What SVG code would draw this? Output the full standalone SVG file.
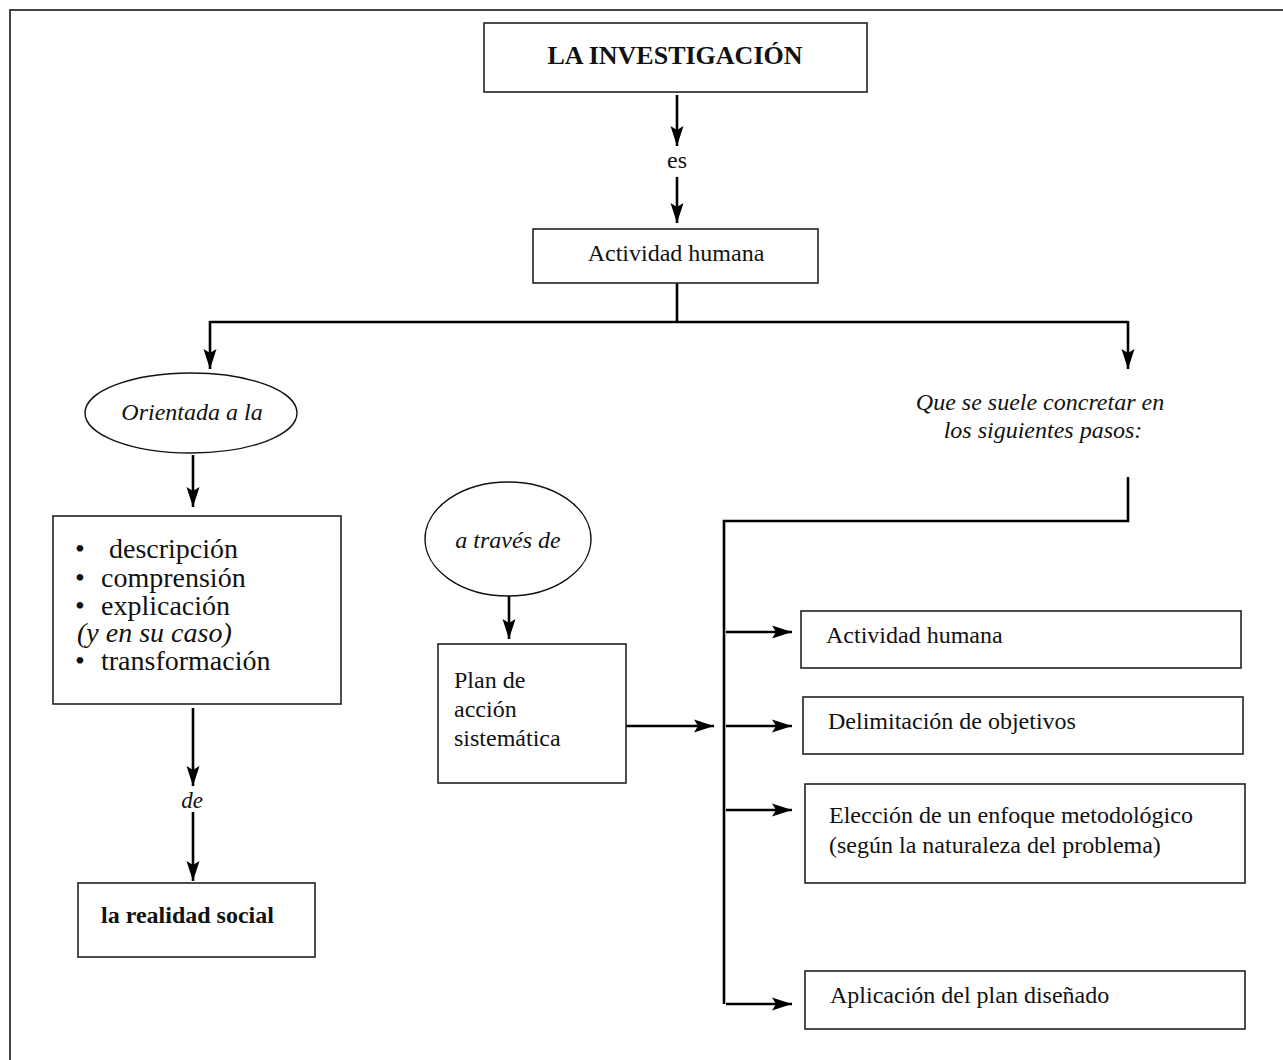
<svg xmlns="http://www.w3.org/2000/svg" width="1283" height="1060" viewBox="0 0 1283 1060">
<defs>
<marker id="ah" markerUnits="userSpaceOnUse" markerWidth="22" markerHeight="14" refX="20" refY="7" orient="auto">
<path d="M0,0.5 L20,7 L0,13.5 L4,7 z" fill="#000"/>
</marker>
</defs>
<style>
.box{fill:#fff;stroke:#222;stroke-width:1.6}
.ell{fill:#fff;stroke:#111;stroke-width:1.4}
.t{font-family:"Liberation Serif","Times New Roman",serif;fill:#111}
.it{font-style:italic}
.b{font-weight:bold}
.c{fill:none;stroke:#000;stroke-width:2.6}
.a{fill:none;stroke:#000;stroke-width:2.6;marker-end:url(#ah)}
.frame{fill:none;stroke:#444;stroke-width:2}
</style>
<rect width="1283" height="1060" fill="#fff"/>
<path class="frame" d="M10,1060 V10 H1283"/>

<g id="connectors">
<line class="a" x1="677" y1="95" x2="677" y2="146"/>
<line class="a" x1="677" y1="177" x2="677" y2="223"/>
<polyline class="c" points="677,283 677,322"/>
<polyline class="c" points="210,322 1128,322"/>
<polyline class="a" points="210,321 210,369"/>
<polyline class="a" points="1128,321 1128,369"/>
<line class="a" x1="193" y1="455" x2="193" y2="507"/>
<line class="a" x1="193" y1="708" x2="193" y2="786"/>
<line class="a" x1="193" y1="812" x2="193" y2="881"/>
<line class="a" x1="509" y1="573" x2="509" y2="639"/>
<line class="a" x1="626" y1="726" x2="714" y2="726"/>
<polyline class="c" points="1128,477 1128,521 724,521 724,1004"/>
<line class="a" x1="726" y1="632" x2="792" y2="632"/>
<line class="a" x1="726" y1="726" x2="792" y2="726"/>
<line class="a" x1="726" y1="810" x2="792" y2="810"/>
<line class="a" x1="726" y1="1004" x2="792" y2="1004"/>
<text class="t" x="677" y="168" font-size="24" text-anchor="middle">es</text>
<text class="t it" x="192" y="808" font-size="23" text-anchor="middle">de</text>
</g>

<g id="n-investigacion">
<rect class="box" x="484" y="23" width="383" height="69"/>
<text class="t b" x="675" y="64" font-size="26" text-anchor="middle">LA INVESTIGACIÓN</text>
</g>

<g id="n-actividad">
<rect class="box" x="533" y="229" width="285" height="54"/>
<text class="t" x="676" y="261" font-size="24" text-anchor="middle">Actividad humana</text>
</g>

<g id="n-orientada">
<ellipse class="ell" cx="191" cy="413" rx="106" ry="40"/>
<text class="t it" x="192" y="420" font-size="24" text-anchor="middle">Orientada a la</text>
</g>

<g id="n-lista">
<rect class="box" x="53" y="516" width="288" height="188"/>
<text class="t" font-size="28">
<tspan x="75" y="558">•</tspan><tspan x="109" y="558">descripción</tspan>
<tspan x="75" y="587">•</tspan><tspan x="101" y="587">comprensión</tspan>
<tspan x="75" y="615">•</tspan><tspan x="101" y="615">explicación</tspan>
<tspan x="77" y="642" font-style="italic">(y en su caso)</tspan>
<tspan x="75" y="670">•</tspan><tspan x="101" y="670">transformación</tspan>
</text>
</g>

<g id="n-realidad">
<rect class="box" x="78" y="883" width="237" height="74"/>
<text class="t b" x="101" y="923" font-size="24">la realidad social</text>
</g>

<g id="n-traves">
<ellipse class="ell" cx="508" cy="539" rx="83" ry="57"/>
<text class="t it" x="508" y="548" font-size="24" text-anchor="middle">a través de</text>
</g>

<g id="n-plan">
<rect class="box" x="438" y="644" width="188" height="139"/>
<text class="t" font-size="24">
<tspan x="454" y="688">Plan de</tspan>
<tspan x="454" y="717">acción</tspan>
<tspan x="454" y="746">sistemática</tspan>
</text>
</g>

<g id="n-pasos">
<text class="t it" font-size="24" text-anchor="middle">
<tspan x="1043" y="410">Que se suele concretar en</tspan>
<tspan x="1043" y="438">los siguientes pasos:</tspan>
</text>
</g>

<g id="n-paso1">
<rect class="box" x="801" y="611" width="440" height="57"/>
<text class="t" x="826" y="643" font-size="24">Actividad humana</text>
</g>

<g id="n-paso2">
<rect class="box" x="803" y="697" width="440" height="57"/>
<text class="t" x="828" y="729" font-size="24">Delimitación de objetivos</text>
</g>

<g id="n-paso3">
<rect class="box" x="805" y="784" width="440" height="99"/>
<text class="t" font-size="24">
<tspan x="829" y="823">Elección de un enfoque metodológico</tspan>
<tspan x="829" y="853">(según la naturaleza del problema)</tspan>
</text>
</g>

<g id="n-paso4">
<rect class="box" x="805" y="971" width="440" height="58"/>
<text class="t" x="830" y="1003" font-size="24">Aplicación del plan diseñado</text>
</g>
</svg>
